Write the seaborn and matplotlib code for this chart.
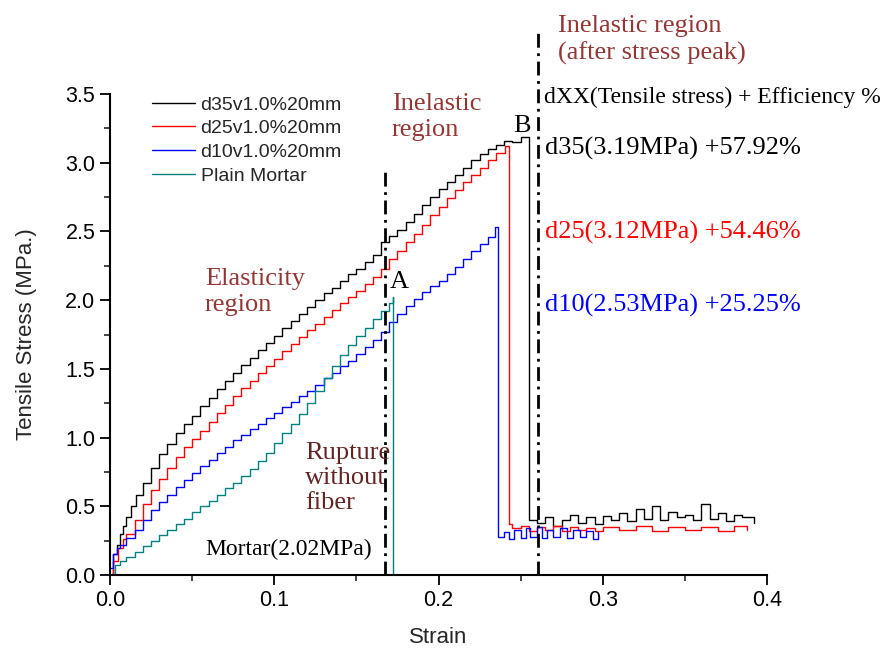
import matplotlib
matplotlib.use("Agg")
import matplotlib.pyplot as plt
import seaborn as sns

# --- données (déformation, contrainte en MPa) ---
d35_strain = [0.000, 0.002, 0.004, 0.006, 0.008, 0.010, 0.013, 0.016, 0.020, 0.025,
              0.030, 0.035, 0.040, 0.045, 0.050, 0.055, 0.060, 0.065, 0.070, 0.075,
              0.080, 0.085, 0.090, 0.095, 0.100, 0.105, 0.110, 0.115, 0.120, 0.125,
              0.130, 0.135, 0.140, 0.145, 0.150, 0.155, 0.160, 0.165, 0.170, 0.175,
              0.180, 0.185, 0.190, 0.195, 0.200, 0.205, 0.210, 0.215, 0.220, 0.225,
              0.230, 0.235, 0.240, 0.245, 0.250, 0.2550, 0.2552,
              0.260, 0.265, 0.270, 0.275, 0.280, 0.285, 0.290, 0.295, 0.300, 0.305,
              0.310, 0.315, 0.320, 0.325, 0.330, 0.335, 0.340, 0.345, 0.350, 0.355,
              0.360, 0.365, 0.370, 0.375, 0.380, 0.385, 0.392]
d35_stress = [0.00, 0.15, 0.22, 0.30, 0.36, 0.42, 0.50, 0.58, 0.67, 0.78,
              0.88, 0.95, 1.03, 1.10, 1.16, 1.23, 1.29, 1.35, 1.41, 1.47,
              1.53, 1.58, 1.64, 1.69, 1.74, 1.80, 1.85, 1.90, 1.95, 2.00,
              2.05, 2.09, 2.14, 2.19, 2.23, 2.28, 2.33, 2.42, 2.47, 2.51,
              2.57, 2.63, 2.69, 2.75, 2.81, 2.86, 2.91, 2.96, 3.02, 3.06,
              3.10, 3.13, 3.16, 3.15, 3.19, 3.18, 0.40,
              0.38, 0.42, 0.36, 0.40, 0.44, 0.38, 0.42, 0.37, 0.43, 0.40,
              0.45, 0.39, 0.48, 0.41, 0.50, 0.40, 0.46, 0.42, 0.44, 0.40,
              0.52, 0.41, 0.45, 0.39, 0.44, 0.42, 0.38]

d25_strain = [0.000, 0.002, 0.005, 0.008, 0.010, 0.015, 0.020, 0.025, 0.030, 0.035,
              0.040, 0.045, 0.050, 0.055, 0.060, 0.065, 0.070, 0.075, 0.080, 0.085,
              0.090, 0.095, 0.100, 0.105, 0.110, 0.115, 0.120, 0.125, 0.130, 0.135,
              0.140, 0.145, 0.150, 0.155, 0.160, 0.165, 0.170, 0.175, 0.180, 0.185,
              0.190, 0.195, 0.200, 0.205, 0.210, 0.215, 0.220, 0.225, 0.230, 0.235,
              0.2405, 0.2430,
              0.245, 0.250, 0.255, 0.260, 0.265, 0.270, 0.275, 0.280, 0.285, 0.290,
              0.295, 0.300, 0.310, 0.320, 0.330, 0.340, 0.350, 0.360, 0.370, 0.380, 0.388]
d25_stress = [0.00, 0.10, 0.20, 0.26, 0.30, 0.40, 0.52, 0.62, 0.70, 0.78,
              0.86, 0.93, 0.99, 1.05, 1.11, 1.18, 1.24, 1.30, 1.36, 1.41,
              1.47, 1.52, 1.57, 1.63, 1.68, 1.73, 1.78, 1.83, 1.88, 1.93,
              1.98, 2.02, 2.07, 2.12, 2.17, 2.23, 2.30, 2.36, 2.42, 2.48,
              2.55, 2.62, 2.68, 2.74, 2.80, 2.86, 2.91, 2.96, 3.02, 3.07,
              3.12, 0.37,
              0.34, 0.36, 0.32, 0.35, 0.33, 0.36, 0.32, 0.35, 0.33, 0.34,
              0.32, 0.35, 0.33, 0.36, 0.32, 0.35, 0.33, 0.35, 0.32, 0.36, 0.33]

d10_strain = [0.000, 0.002, 0.004, 0.006, 0.010, 0.015, 0.020, 0.025, 0.030, 0.035,
              0.040, 0.045, 0.050, 0.055, 0.060, 0.065, 0.070, 0.075, 0.080, 0.085,
              0.090, 0.095, 0.100, 0.105, 0.110, 0.115, 0.120, 0.125, 0.130, 0.135,
              0.140, 0.145, 0.150, 0.155, 0.160, 0.165, 0.170, 0.175, 0.180, 0.185,
              0.190, 0.195, 0.200, 0.205, 0.210, 0.215, 0.220, 0.225, 0.230, 0.2344,
              0.2365,
              0.240, 0.243, 0.246, 0.250, 0.253, 0.256, 0.260, 0.263, 0.266, 0.270,
              0.274, 0.278, 0.282, 0.286, 0.290, 0.294, 0.297]
d10_stress = [0.05, 0.15, 0.20, 0.22, 0.27, 0.33, 0.40, 0.47, 0.53, 0.58,
              0.64, 0.69, 0.74, 0.79, 0.84, 0.89, 0.93, 0.98, 1.02, 1.06,
              1.10, 1.14, 1.18, 1.22, 1.26, 1.30, 1.34, 1.38, 1.43, 1.47,
              1.52, 1.56, 1.61, 1.66, 1.71, 1.77, 1.84, 1.90, 1.96, 2.01,
              2.06, 2.10, 2.14, 2.19, 2.24, 2.30, 2.36, 2.41, 2.46, 2.53,
              0.28,
              0.31, 0.26, 0.33, 0.27, 0.34, 0.28, 0.35, 0.27, 0.33, 0.28,
              0.34, 0.27, 0.33, 0.28, 0.32, 0.26, 0.31]

mortar_strain = [0.000, 0.003, 0.006, 0.010, 0.015, 0.020, 0.025, 0.030, 0.035, 0.040,
                 0.045, 0.050, 0.055, 0.060, 0.065, 0.070, 0.075, 0.080, 0.085, 0.090,
                 0.095, 0.100, 0.105, 0.110, 0.115, 0.120, 0.125, 0.130, 0.135, 0.140,
                 0.145, 0.150, 0.155, 0.160, 0.165, 0.170, 0.1720, 0.1725, 0.250]
mortar_stress = [0.00, 0.07, 0.10, 0.13, 0.17, 0.21, 0.25, 0.29, 0.33, 0.37,
                 0.41, 0.46, 0.50, 0.54, 0.58, 0.63, 0.67, 0.72, 0.77, 0.83,
                 0.89, 0.96, 1.03, 1.10, 1.17, 1.25, 1.34, 1.43, 1.52, 1.60,
                 1.67, 1.74, 1.80, 1.86, 1.92, 1.98, 2.02, 0.00, 0.00]

series_labels = ["d35v1.0%20mm", "d25v1.0%20mm", "d10v1.0%20mm", "Plain Mortar"]
series_colors = ["black", "#ff0000", "#0000ff", "#008080"]

results = ["d35(3.19MPa) +57.92%", "d25(3.12MPa) +54.46%", "d10(2.53MPa) +25.25%"]

sns.set_theme(style="ticks")
plt.rcParams['font.family'] = ['Liberation Sans', 'DejaVu Sans']

fig = plt.figure(figsize=(8.9, 6.49), dpi=100)
ax = fig.add_axes([110 / 890, 1 - 575 / 649, 657 / 890, 481 / 649])

donnees = [(d35_strain, d35_stress), (d25_strain, d25_stress),
           (d10_strain, d10_stress), (mortar_strain, mortar_stress)]
for (x, y), lab, col in zip(donnees, series_labels, series_colors):
    sns.lineplot(x=x, y=y, ax=ax, color=col, label=lab, lw=1.0,
                 estimator=None, sort=False, drawstyle='steps-post')

# lignes de séparation des régions
dashdot = (0, (5, 2, 1, 2))
ax.plot([0.1674, 0.1674], [0, 2.95], color='black', lw=2, linestyle=dashdot)
ax.plot([0.2606, 0.2606], [0, 3.95], color='black', lw=2, linestyle=dashdot, clip_on=False)

ax.set_xlim(0, 0.4)
ax.set_ylim(0, 3.5)
ax.set_xticks([0.0, 0.1, 0.2, 0.3, 0.4])
ax.set_yticks([0.0, 0.5, 1.0, 1.5, 2.0, 2.5, 3.0, 3.5])
ax.set_xticks([0.05, 0.15, 0.25, 0.35], minor=True)
ax.set_yticks([0.25, 0.75, 1.25, 1.75, 2.25, 2.75, 3.25], minor=True)
ax.tick_params(which='major', direction='out', length=7, width=1.3, labelsize=15.5, colors='black')
ax.tick_params(which='minor', direction='out', length=4, width=1.2)
for s in ['left', 'bottom']:
    ax.spines[s].set_linewidth(1.5)
    ax.spines[s].set_color('black')
sns.despine(ax=ax)

ax.set_xlabel('Strain', fontsize=16, labelpad=12)
ax.set_ylabel('Tensile Stress (MPa.)', fontsize=16, labelpad=20)

ax.legend(loc='upper left', bbox_to_anchor=(0.052, 1.012), frameon=False,
          fontsize=14, handlelength=2.2, handletextpad=0.3, labelspacing=0.31,
          borderaxespad=0)

# annotations (coordonnées en pixels de la figure)
serif = ['Liberation Serif', 'DejaVu Serif']
brun = '#943634'
def note(px, py, txt, size=19, color='black'):
    fig.text(px / 890, 1 - py / 649, txt, fontsize=size, color=color,
             family=serif, ha='left', va='center', linespacing=1.2)

note(558, 40, "Inelastic region\n(after stress peak)", color=brun)
note(544, 97, "dXX(Tensile stress) + Efficiency %", size=17)
note(545, 148, results[0])
note(545, 232, results[1], color='#ff0000')
note(545, 305, results[2], color='#0000ff')
note(392, 117, "Inelastic\nregion", color=brun)
note(205, 292, "Elasticity\nregion", color=brun)
note(305, 478, "Rupture\nwithout\nfiber", color='#632523')
note(205, 549, "Mortar(2.02MPa)", size=17)
note(513, 126, "B")
note(390, 282, "A")

plt.savefig("out.png", dpi=100)
